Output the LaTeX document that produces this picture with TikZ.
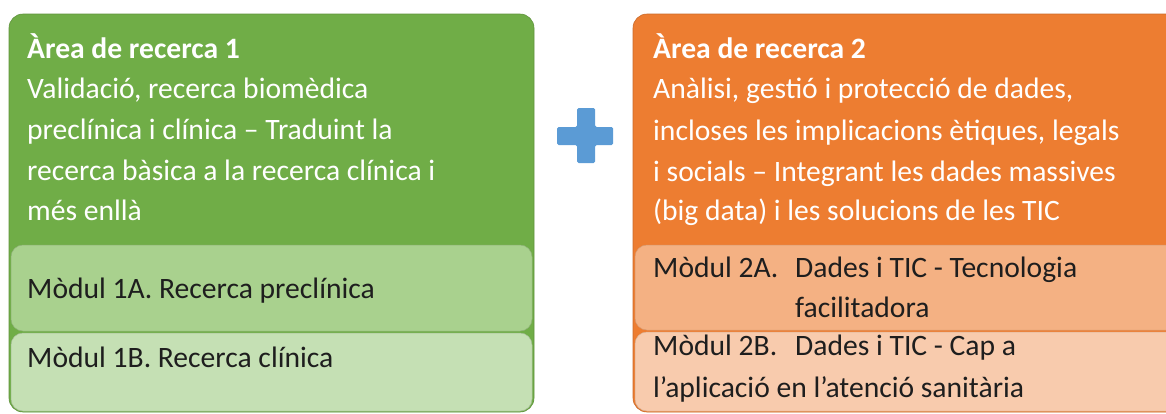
\documentclass[tikz,border=0pt]{standalone}
\usepackage{fontspec}
\setmainfont{Carlito}
\definecolor{grnA}{HTML}{70AD47}
\definecolor{grnB}{HTML}{A9D18E}
\definecolor{grnC}{HTML}{C5E0B4}
\definecolor{orgA}{HTML}{ED7D31}
\definecolor{orgB}{HTML}{F4B183}
\definecolor{orgC}{HTML}{F8CBAD}
\definecolor{plusblue}{HTML}{5B9BD5}
\definecolor{txtdark}{HTML}{1E1E1E}
\tikzset{
  hdr/.style={anchor=base west, inner sep=0pt, text=white, font=\fontsize{29.6}{40}\selectfont},
  mod/.style={anchor=base west, inner sep=0pt, text=txtdark, font=\fontsize{29.6}{40}\selectfont},
}
\begin{document}
\begin{tikzpicture}[x=1pt,y=-1pt]
\useasboundingbox (0,0) rectangle (1166,413);
\clip (0,0) rectangle (1166,413);
% area boxes
\draw[fill=grnA, draw=grnA!85!black, line width=0.6pt, rounded corners=14pt] (9,14) rectangle (534,412);
\draw[fill=grnB, draw=grnB!85!black, line width=0.5pt, rounded corners=12pt] (11,245) rectangle (532,331);
\draw[fill=grnC, draw=grnC!85!black, line width=0.5pt, rounded corners=12pt] (11,333) rectangle (532,411);
\draw[fill=orgA, draw=orgA!85!black, line width=0.6pt, rounded corners=14pt] (633,14) rectangle (1190,412);
\draw[fill=orgB, draw=orgB!88!black, line width=0.5pt, rounded corners=12pt] (635,245) rectangle (1188,330);
\draw[fill=orgC, draw=orgC!88!black, line width=0.5pt, rounded corners=12pt] (635,332) rectangle (1188,411);
% plus
\fill[plusblue, rounded corners=1.5pt] (577,108) -- (595,108) -- (595,127) -- (613,127) -- (613,145) -- (595,145) -- (595,163) -- (577,163) -- (577,145) -- (557,145) -- (557,127) -- (577,127) -- cycle;
% green texts
\node[hdr, font=\fontsize{29.6}{40}\selectfont\bfseries] (g0) at (27,58) {Àrea de recerca 1};
\node[hdr] (g1) at (27,98) {Validació, recerca biomèdica};
\node[hdr] (g2) at (27,139) {preclínica i clínica – Traduint la};
\node[hdr] (g3) at (27,180) {recerca bàsica a la recerca clínica i};
\node[hdr] (g4) at (27,220) {més enllà};
\node[mod] (m1a) at (27,298) {Mòdul 1A. Recerca preclínica};
\node[mod] (m1b) at (27,367) {Mòdul 1B. Recerca clínica};
% orange texts
\node[hdr, font=\fontsize{29.6}{40}\selectfont\bfseries] (o0) at (653,58) {Àrea de recerca 2};
\node[hdr] (o1) at (653,98) {Anàlisi, gestió i protecció de dades,};
\node[hdr] (o2) at (653,140) {incloses les implicacions ètiques, legals};
\node[hdr] (o3) at (653,181) {i socials – Integrant les dades massives};
\node[hdr] (o4) at (653,220) {(big data) i les solucions de les TIC};
\node[mod] (m2a) at (653,277) {Mòdul 2A.};
\node[mod] (m2a1) at (795,277) {Dades i TIC - Tecnologia};
\node[mod] (m2a2) at (795,317) {facilitadora};
\node[mod] (m2b) at (653,355) {Mòdul 2B.};
\node[mod] (m2b1) at (795,355) {Dades i TIC - Cap a};
\node[mod] (m2b2) at (653,397) {l’aplicació en l’atenció sanitària};
\end{tikzpicture}
\end{document}
